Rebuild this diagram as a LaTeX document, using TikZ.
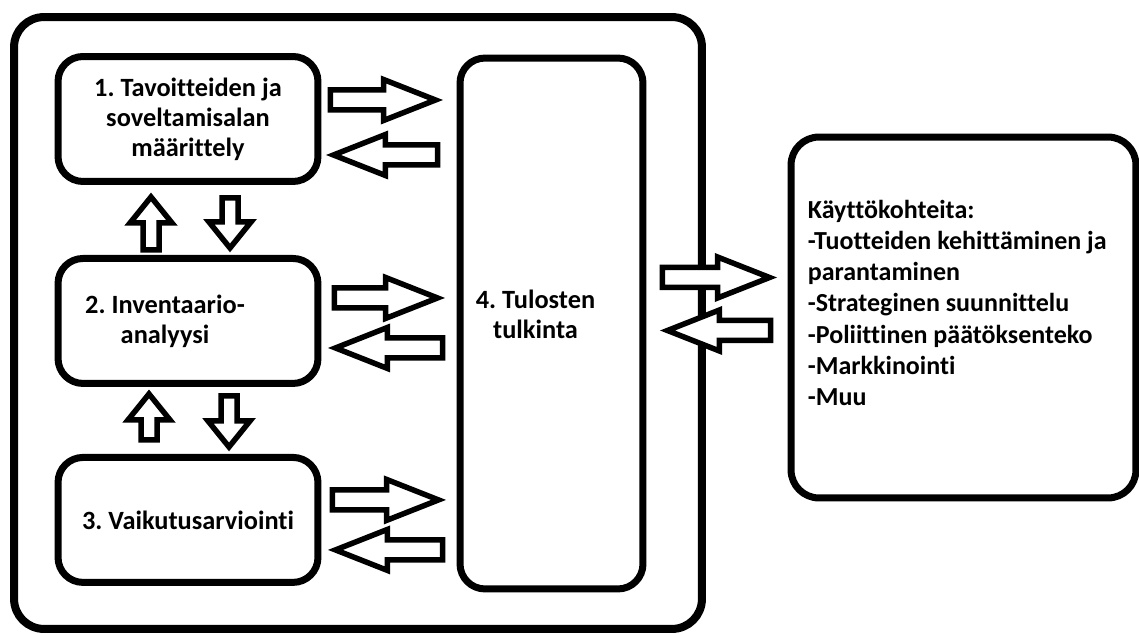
\documentclass[tikz,border=0pt]{standalone}
\usepackage{fontspec}
\setmainfont{Carlito}[Ligatures={NoCommon,NoContextual}]
\frenchspacing
\usetikzlibrary{positioning}
\usetikzlibrary{calc}
\tikzset{%
  frame/.style = {rectangle,draw,line width=0.16cm,rounded corners=0.6cm},
  box/.style = {rectangle,draw,line width=0.14cm,rounded corners=0.5cm,
        minimum width=5.2cm,minimum height=2.5cm,align=center,
        font=\fontsize{15}{17}\selectfont\bfseries},
  txt/.style = {align=center,inner sep=0pt,
        font=\fontsize{15}{17}\selectfont\bfseries},
  fatshaft/.store in = \fatw,
  fathead/.store in = \fathw,
  fatheadlen/.store in = \fathl,
  fat/.style = {draw,fill=white,line width=0.11cm,
        to path={let \p1=(\tikztostart), \p2=(\tikztotarget),
          \p3=($(\p2)!\fathl!(\p1)$) in
          ($(\p1)!\fatw!90:(\p2)$) -- ($(\p3)!\fatw!90:(\p2)$)
          -- ($(\p3)!\fathw!90:(\p2)$) -- (\p2)
          -- ($(\p3)!\fathw!-90:(\p2)$) -- ($(\p3)!\fatw!-90:(\p2)$)
          -- ($(\p1)!\fatw!-90:(\p2)$) -- cycle}},
  harrow/.style = {fat,fatshaft=0.2cm,fathead=0.41cm,fatheadlen=1.04cm},
  varrow/.style = {fat,fatshaft=0.16cm,fathead=0.42cm,fatheadlen=0.52cm}
}

\begin{document}
\begin{tikzpicture}[x=0.02cm,y=-0.02cm]
    \useasboundingbox (0,0) rectangle (1139,634);
    \node[frame,minimum width=13.76cm,minimum height=12.24cm] (lca) at (358,323) {};

    \node[box] (b1) at (188,119) {1. Tavoitteiden ja\\soveltamisalan\\määrittely};
    \node[box] (b2) [below=1.4cm of b1] {};
    \node[txt] (t2) at ([xshift=-0.46cm]b2.center) {2. Inventaario-\\analyysi};
    \node[box] (b3) [below=1.34cm of b2] {3. Vaikutusarviointi};

    \node[box,minimum width=3.66cm,minimum height=10.62cm] (b4) at (551.5,323.5) {};
    \node[txt] (t4) at ($(b4.center)+(-16,-9)$) {4. Tulosten\\tulkinta};

    \node[box,rounded corners=0.56cm,minimum width=6.9cm,minimum height=7.22cm] (use) at (963.5,317.5) {};
    \node[txt,anchor=north west,align=left,font=\fontsize{14.8}{17.8}\selectfont\bfseries]
        (t5) at ($(use.north west)+(20,66)$)
        {Käyttökohteita:\\-Tuotteiden kehittäminen ja\\parantaminen\\-Strateginen suunnittelu\\
         -Poliittinen päätöksenteko\\-Markkinointi\\-Muu};

    % between steps and interpretation
    \draw[harrow] ($(b1.east)+(9,-19)$) to ($(b4.west |- b1.east)+(-21,-19)$);
    \draw[harrow] ($(b4.west |- b1.east)+(-19,36)$) to ($(b1.east)+(12,36)$);
    \draw[harrow] ($(b2.east)+(13,-23)$) to ($(b4.west |- b2.east)+(-19,-23)$);
    \draw[harrow] ($(b4.west |- b2.east)+(-14,27)$) to ($(b2.east)+(14,27)$);
    \draw[harrow] ($(b3.east)+(11,-20)$) to ($(b4.west |- b3.east)+(-18,-20)$);
    \draw[harrow] ($(b4.west |- b3.east)+(-14,30)$) to ($(b3.east)+(14,30)$);

    % between the steps
    \draw[varrow] ($(b2.north)+(-37,-5)$) to ($(b1.south)+(-37,12)$);
    \draw[varrow] ($(b1.south)+(42,13)$) to ($(b2.north)+(42,-7)$);
    \draw[varrow] ($(b3.north)+(-39,-14)$) to ($(b2.south)+(-39,7)$);
    \draw[varrow] ($(b2.south)+(41,9)$) to ($(b3.north)+(41,-7)$);

    % to the applications
    \draw[harrow] ($(b4.east)+(16,-46)$) to ($(use.west |- b4.east)+(-18,-46)$);
    \draw[harrow] ($(use.west |- b4.east)+(-17,7)$) to ($(b4.east)+(21,7)$);
\end{tikzpicture}
\end{document}
